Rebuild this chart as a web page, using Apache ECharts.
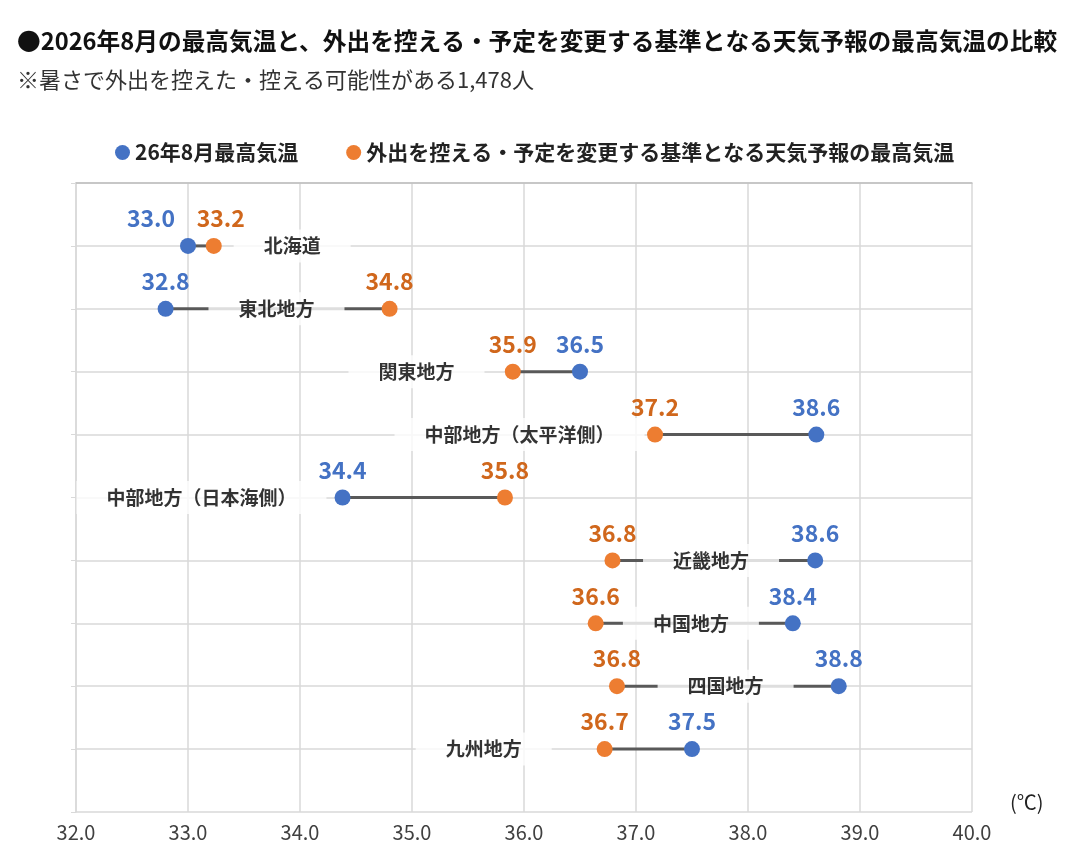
<!DOCTYPE html>
<html>
<head>
<meta charset="utf-8">
<script src="https://cdn.jsdelivr.net/npm/echarts@6/dist/echarts.min.js"></script>
<style>
  html, body { margin: 0; padding: 0; background: #fff; }
  #chart { width: 1072px; height: 848px; }
</style>
</head>
<body>
<div id="chart"></div>
<script>
// 地域（上から順）
var regions = ['北海道', '東北地方', '関東地方', '中部地方（太平洋側）', '中部地方（日本海側）', '近畿地方', '中国地方', '四国地方', '九州地方'];
// 26年8月最高気温
var actualTemp = [33.0, 32.8, 36.5, 38.61, 34.38, 38.6, 38.4, 38.81, 37.5];
// 外出を控える・予定を変更する基準となる天気予報の最高気温
var thresholdTemp = [33.23, 34.8, 35.9, 37.17, 35.83, 36.79, 36.64, 36.83, 36.72];
// 地域名ラベルを置くx位置（℃）
var labelAt = [33.93, 33.79, 35.04, 35.96, 33.12, 37.67, 37.49, 37.80, 35.64];
// x軸目盛
var xTicks = [32, 33, 34, 35, 36, 37, 38, 39, 40];

var actualName = '26年8月最高気温';
var thresholdName = '外出を控える・予定を変更する基準となる天気予報の最高気温';

var FONT = '"Noto Sans CJK JP", "Noto Sans", sans-serif';
var BLUE = '#4472C4';
var ORANGE = '#ED7D31';

var myChart = echarts.init(document.getElementById('chart'));

// 行番号（1始まり）をy値にする
var rows = regions.map(function (r, i) { return i + 1; });

var option = {
  animation: false,
  backgroundColor: '#fff',
  textStyle: { fontFamily: FONT },
  title: [{
    text: '●2026年8月の最高気温と、外出を控える・予定を変更する基準となる天気予報の最高気温の比較',
    left: 12, top: 24,
    textStyle: { fontFamily: FONT, fontSize: 23.7, fontWeight: 'bold', color: '#111' }
  }, {
    text: '※暑さで外出を控えた・控える可能性がある1,478人',
    left: 12, top: 64,
    textStyle: { fontFamily: FONT, fontSize: 22, fontWeight: 'normal', color: '#333' }
  }],
  legend: {
    data: [actualName, thresholdName],
    left: 110, top: 137,
    icon: 'circle',
    itemWidth: 15, itemHeight: 15,
    itemGap: 48,
    textStyle: { fontFamily: FONT, fontSize: 21, fontWeight: 'bold', color: '#222' }
  },
  grid: { left: 76, right: 100, top: 183, bottom: 36 },
  xAxis: {
    type: 'value',
    min: xTicks[0], max: xTicks[xTicks.length - 1], interval: 1,
    axisLine: { show: true, lineStyle: { color: '#bfbfbf', width: 1.5 } },
    axisTick: { show: false },
    axisLabel: {
      fontFamily: FONT, fontSize: 20, color: '#404040', margin: 10,
      formatter: function (v) { return v.toFixed(1); }
    },
    splitLine: { show: true, lineStyle: { color: '#d9d9d9', width: 1.5 } }
  },
  yAxis: {
    type: 'value',
    min: 0, max: regions.length + 1, interval: 1,
    inverse: true,
    axisLine: { show: true, lineStyle: { color: '#d9d9d9', width: 1.5 } },
    axisTick: { show: true, length: 5, lineStyle: { color: '#d9d9d9' } },
    axisLabel: { show: false },
    splitLine: { show: true, lineStyle: { color: '#d9d9d9', width: 1.5 } }
  },
  graphic: [{
    type: 'text', left: 1010, top: 792,
    style: { text: '(℃)', font: '20px ' + FONT, fill: '#222' }
  }],
  series: [
    // 2点を結ぶ線
    {
      type: 'custom',
      z: 1,
      silent: true,
      data: rows.map(function (y, i) { return [actualTemp[i], thresholdTemp[i], y]; }),
      encode: { x: [0, 1], y: 2 },
      renderItem: function (params, api) {
        var y = api.value(2);
        var p1 = api.coord([api.value(0), y]);
        var p2 = api.coord([api.value(1), y]);
        return {
          type: 'line',
          shape: { x1: p1[0], y1: p1[1], x2: p2[0], y2: p2[1] },
          style: { stroke: '#595959', lineWidth: 3 }
        };
      }
    },
    // 地域名（白背景）
    {
      type: 'scatter',
      z: 2,
      silent: true,
      symbolSize: 1,
      itemStyle: { color: 'rgba(0,0,0,0)' },
      data: rows.map(function (y, i) { return { value: [labelAt[i], y], name: regions[i] }; }),
      label: {
        show: true, position: 'inside',
        formatter: '{b}',
        backgroundColor: '#fff',
        padding: [7, 30],
        fontFamily: FONT, fontSize: 19, fontWeight: 'bold', color: '#000'
      }
    },
    {
      name: actualName,
      type: 'scatter',
      z: 3,
      symbolSize: 16,
      itemStyle: { color: BLUE, opacity: 1 },
      data: rows.map(function (y, i) {
        var d = { value: [actualTemp[i], y] };
        if (i === 0) d.label = { offset: [-37, 0] };
        return d;
      }),
      label: {
        show: true, position: 'top', distance: 8,
        fontFamily: FONT, fontSize: 23, fontWeight: 'bold', color: BLUE,
        formatter: function (p) { return p.value[0].toFixed(1); }
      }
    },
    {
      name: thresholdName,
      type: 'scatter',
      z: 3,
      symbolSize: 16,
      itemStyle: { color: ORANGE, opacity: 1 },
      data: rows.map(function (y, i) {
        var d = { value: [thresholdTemp[i], y] };
        if (i === 0) d.label = { offset: [7, 0] };
        return d;
      }),
      label: {
        show: true, position: 'top', distance: 8,
        fontFamily: FONT, fontSize: 23, fontWeight: 'bold', color: '#D0671C',
        formatter: function (p) { return p.value[0].toFixed(1); }
      }
    }
  ]
};

myChart.setOption(option);
</script>
</body>
</html>
